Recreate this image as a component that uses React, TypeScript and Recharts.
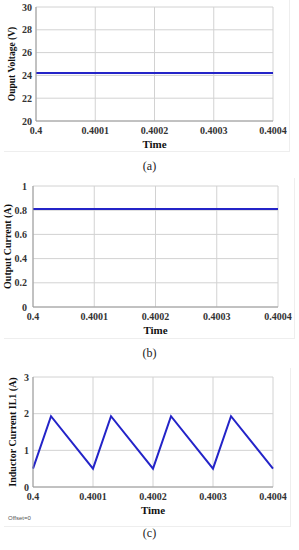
import { CartesianGrid, Line, LineChart, XAxis, YAxis } from 'recharts'

const timeTicks = [0.4, 0.4001, 0.4002, 0.4003, 0.4004]

const voltageTime = [0.4, 0.4001, 0.4002, 0.4003, 0.4004]
const voltageValues = [24.2, 24.2, 24.2, 24.2, 24.2]
const voltageTicks = [20, 22, 24, 26, 28, 30]

const currentTime = [0.4, 0.4001, 0.4002, 0.4003, 0.4004]
const currentValues = [0.81, 0.81, 0.81, 0.81, 0.81]
const currentTicks = [0, 0.2, 0.4, 0.6, 0.8, 1]

const inductorTime = [0.4, 0.40003, 0.4001, 0.40013, 0.4002, 0.40023, 0.4003, 0.40033, 0.4004]
const inductorValues = [0.5, 1.93, 0.5, 1.93, 0.5, 1.93, 0.5, 1.93, 0.5]
const inductorTicks = [0, 1, 2, 3]

const serif = '"Liberation Serif", "Times New Roman", serif'
const lineBlue = '#2424c8'
const frame = '#9a9a9a'

function toRows(t: number[], v: number[]) {
  return t.map((time, i) => ({ time, value: v[i] }))
}

const tickText = { fontFamily: serif, fontWeight: 'bold' as const, fontSize: 10 }

function XTick(props: any) {
  return (
    <text x={props.x} y={props.y} textAnchor="middle" dominantBaseline="hanging" style={tickText} fill="#333">
      {props.payload.value}
    </text>
  )
}

function YTick(props: any) {
  return (
    <text x={props.x} y={props.y} textAnchor="end" dominantBaseline="central" style={tickText} fill="#333">
      {props.payload.value}
    </text>
  )
}

function yLabel(text: string, x: number, size: number) {
  return (props: any) => {
    const vb = props.viewBox
    const cy = vb.y + vb.height / 2
    return (
      <text
        x={x}
        y={cy}
        transform={`rotate(-90 ${x} ${cy})`}
        textAnchor="middle"
        dominantBaseline="central"
        style={{ fontFamily: serif, fontWeight: 'bold', fontSize: size }}
        fill="#111"
      >
        {text}
      </text>
    )
  }
}

function xLabel(centerX: number) {
  return (props: any) => {
    const vb = props.viewBox
    return (
      <text
        x={centerX}
        y={vb.y + 23}
        textAnchor="middle"
        dominantBaseline="central"
        style={{ fontFamily: serif, fontWeight: 'bold', fontSize: 11 }}
        fill="#111"
      >
        Time
      </text>
    )
  }
}

function Panel({
  top,
  height,
  yWidth,
  right,
  marginTop,
  xHeight,
  rows,
  domain,
  yTicks,
  yTickMargin,
  yLabelText,
  yLabelX,
  yLabelSize,
}: {
  top: number
  height: number
  yWidth: number
  right: number
  marginTop: number
  xHeight: number
  rows: Array<{ time: number; value: number }>
  domain: [number, number]
  yTicks: number[]
  yTickMargin: number
  yLabelText: string
  yLabelX: number
  yLabelSize: number
}) {
  const centerX = (yWidth + (299 - right)) / 2
  return (
    <div style={{ position: 'absolute', left: 0, top }}>
      <LineChart width={299} height={height} data={rows} margin={{ top: marginTop, right, bottom: 0, left: 0 }}>
        <CartesianGrid stroke="#d2d2d2" horizontalValues={yTicks} verticalValues={timeTicks} />
        <XAxis
          dataKey="time"
          type="number"
          domain={[0.4, 0.4004]}
          ticks={timeTicks}
          height={xHeight}
          tickLine={false}
          tickSize={0}
          tickMargin={6}
          axisLine={{ stroke: frame }}
          tick={<XTick />}
          interval={0}
          label={{ content: xLabel(centerX) }}
        />
        <XAxis
          xAxisId="top"
          orientation="top"
          dataKey="time"
          type="number"
          domain={[0.4, 0.4004]}
          ticks={timeTicks}
          height={0}
          tick={false}
          tickLine={false}
          axisLine={{ stroke: frame }}
        />
        <YAxis
          type="number"
          domain={domain}
          ticks={yTicks}
          width={yWidth}
          tickLine={false}
          tickSize={0}
          tickMargin={yTickMargin}
          axisLine={{ stroke: frame }}
          tick={<YTick />}
          interval={0}
          label={{ content: yLabel(yLabelText, yLabelX, yLabelSize) }}
        />
        <YAxis
          yAxisId="right"
          orientation="right"
          domain={domain}
          ticks={yTicks}
          width={0}
          tick={false}
          tickLine={false}
          axisLine={{ stroke: frame }}
        />
        <Line dataKey="value" type="linear" stroke={lineBlue} strokeWidth={2} dot={false} isAnimationActive={false} />
      </LineChart>
    </div>
  )
}

function Caption({ text, top }: { text: string; top: number }) {
  return (
    <div
      style={{
        position: 'absolute',
        left: 0,
        width: 299,
        top,
        textAlign: 'center',
        fontFamily: serif,
        fontSize: 12,
        color: '#222',
        lineHeight: '14px',
      }}
    >
      {text}
    </div>
  )
}

export default function App() {
  return (
    <div style={{ position: 'absolute', left: 0, top: 0, width: 299, height: 550, background: '#fff', overflow: 'hidden' }}>
      <div style={{ position: 'absolute', left: 4, top: 0, width: 285, height: 151, borderRight: '1px solid #eee', borderBottom: '1px solid #eee' }} />
      <div style={{ position: 'absolute', left: 4, top: 178, width: 290, height: 160, borderRight: '1px solid #eee', borderBottom: '1px solid #eee' }} />
      <div style={{ position: 'absolute', left: 4, top: 368, width: 286, height: 158, borderRight: '1px solid #eee', borderBottom: '1px solid #eee' }} />
      <Panel
        top={0}
        height={152}
        yWidth={36}
        right={26}
        marginTop={7}
        xHeight={31}
        rows={toRows(voltageTime, voltageValues)}
        domain={[20, 30]}
        yTicks={voltageTicks}
        yTickMargin={4}
        yLabelText="Ouput Voltage (V)"
        yLabelX={12}
        yLabelSize={9.5}
      />
      <Caption text="(a)" top={159} />
      <Panel
        top={160}
        height={180}
        yWidth={33}
        right={21}
        marginTop={26}
        xHeight={33}
        rows={toRows(currentTime, currentValues)}
        domain={[0, 1]}
        yTicks={currentTicks}
        yTickMargin={6}
        yLabelText="Output Current (A)"
        yLabelX={7}
        yLabelSize={10}
      />
      <Caption text="(b)" top={346} />
      <Panel
        top={350}
        height={168}
        yWidth={33}
        right={26}
        marginTop={27}
        xHeight={31}
        rows={toRows(inductorTime, inductorValues)}
        domain={[0, 3]}
        yTicks={inductorTicks}
        yTickMargin={4}
        yLabelText="Inductor Current IL1 (A)"
        yLabelX={12}
        yLabelSize={10}
      />
      <div style={{ position: 'absolute', left: 8, top: 515, fontFamily: 'Arial, "Liberation Sans", sans-serif', fontSize: 6, color: '#555' }}>
        Offset=0
      </div>
      <Caption text="(c)" top={526} />
    </div>
  )
}
